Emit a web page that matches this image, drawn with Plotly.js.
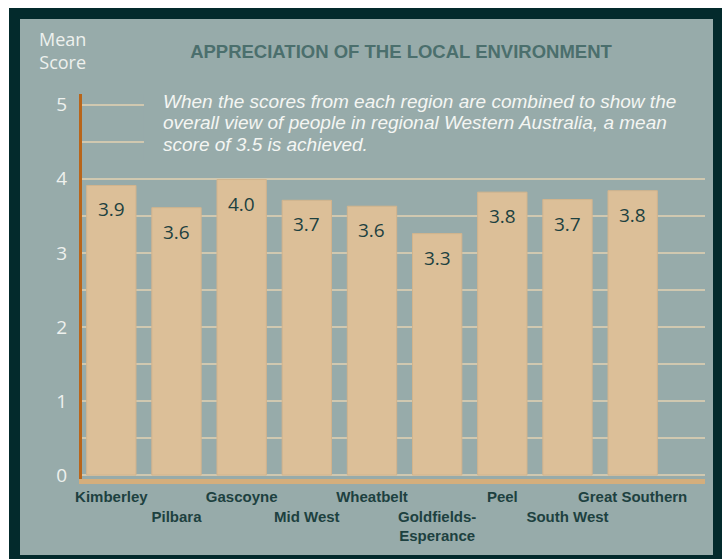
<!DOCTYPE html>
<html>
<head>
<meta charset="utf-8">
<script src="https://cdn.plot.ly/plotly-3.0.1.min.js"></script>
<style>
  html, body { margin:0; padding:0; background:#ffffff; width:722px; height:559px; overflow:hidden; }
  #frame { position:absolute; left:9px; top:8px; width:713px; height:551px; background:#032a2c; }
  #panel { position:absolute; left:20px; top:19px; width:693px; height:536px; background:#97abaa; }
  #chart { position:absolute; left:0; top:0; width:722px; height:559px; }
</style>
</head>
<body>
<div id="frame"></div>
<div id="panel"></div>
<div id="chart"></div>
<script>
// ---- data ----
const regions = ["Kimberley", "Pilbara", "Gascoyne", "Mid West", "Wheatbelt",
                 "Goldfields-Esperance", "Peel", "South West", "Great Southern"];
const meanScores = [3.91, 3.61, 3.99, 3.71, 3.63, 3.26, 3.82, 3.72, 3.84];
const tickLabels = ["Kimberley", "<br>Pilbara", "Gascoyne", "<br>Mid West", "Wheatbelt",
                    "<br>Goldfields-<br>Esperance", "Peel", "<br>South West", "Great Southern"];
const yTicks = [0, 1, 2, 3, 4, 5];
const titleText = "APPRECIATION OF THE LOCAL ENVIRONMENT";
const noteLines = [
  "When the scores from each region are combined to show the",
  "overall view of people in regional Western Australia, a mean",
  "score of 3.5 is achieved."
];

// ---- styles ----
const PANEL = "#97abaa";
const BAR = "#dcbf98";
const DARK = "#1d4140";
const LIGHT = "#eef1ee";
const GRID = "#d0c8b0";

const trace = {
  type: "bar",
  x: regions,
  y: meanScores,
  marker: { color: BAR, line: { color: "#d2b48c", width: 1 } },
  hoverinfo: "x+y"
};

const valueAnnotations = regions.map((r, i) => ({
  x: r, y: meanScores[i], xref: "x", yref: "y",
  text: meanScores[i].toFixed(1),
  showarrow: false, yanchor: "middle", yshift: -24,
  font: { family: "Open Sans, sans-serif", size: 19, color: DARK }
}));

const noteY = [0.9808, 0.925, 0.8678];
const noteAnnotations = noteLines.map((t, i) => ({
  xref: "paper", yref: "paper", x: 0.1270, y: noteY[i],
  xanchor: "left", yanchor: "middle", showarrow: false, align: "left",
  text: "<i>" + t + "</i>",
  font: { family: "Liberation Sans, Arial, sans-serif", size: 19, color: "#f4f6f3" }
}));

const layout = {
  width: 722, height: 559,
  margin: { l: 82, r: 17, t: 94, b: 80, pad: 0 },
  paper_bgcolor: "rgba(0,0,0,0)",
  plot_bgcolor: "rgba(0,0,0,0)",
  showlegend: false,
  bargap: 0.243,
  title: {
    text: "<b>" + titleText + "</b>",
    x: 401 / 722, xanchor: "center", xref: "container",
    y: 1 - 52 / 559, yanchor: "middle", yref: "container",
    font: { family: "Liberation Sans, Arial, sans-serif", size: 18.5, color: "#4b6f6d" }
  },
  xaxis: {
    type: "category",
    range: [-0.45, 9.11],
    tickmode: "array",
    tickvals: regions,
    ticktext: tickLabels,
    tickangle: 0,
    ticks: "",
    showgrid: false,
    zeroline: false,
    showline: true, linecolor: "#d4ae7c", linewidth: 5,
    tickfont: { family: "Liberation Sans, Arial, sans-serif", size: 15, color: DARK, weight: "bold" },
    fixedrange: true
  },
  yaxis: {
    range: [-0.053, 5.145],
    tickmode: "array",
    tickvals: yTicks,
    ticktext: yTicks.map(String),
    ticks: "",
    showgrid: true, gridcolor: GRID, gridwidth: 2,
    minor: { dtick: 0.5, tick0: 0, showgrid: true, gridcolor: GRID, gridwidth: 2, ticks: "" },
    zeroline: false,
    showline: true, linecolor: "#b8651a", linewidth: 3,
    tickfont: { family: "Open Sans, sans-serif", size: 19, color: LIGHT },
    ticklabelstandoff: 8,
    fixedrange: true
  },
  shapes: [{
    type: "rect", xref: "paper", yref: "paper",
    x0: 0.0995, x1: 1.0, y0: 0.8286, y1: 1.0,
    fillcolor: PANEL, line: { width: 0 }, layer: "above"
  }],
  annotations: [
    {
      xref: "paper", yref: "paper", x: -0.032, y: 1.1117,
      xanchor: "center", yanchor: "middle", showarrow: false,
      text: "Mean<br>Score",
      font: { family: "Open Sans, sans-serif", size: 18, color: LIGHT }
    }
  ].concat(noteAnnotations, valueAnnotations)
};

Plotly.newPlot("chart", [trace], layout, { displayModeBar: false, staticPlot: true });
</script>
</body>
</html>
